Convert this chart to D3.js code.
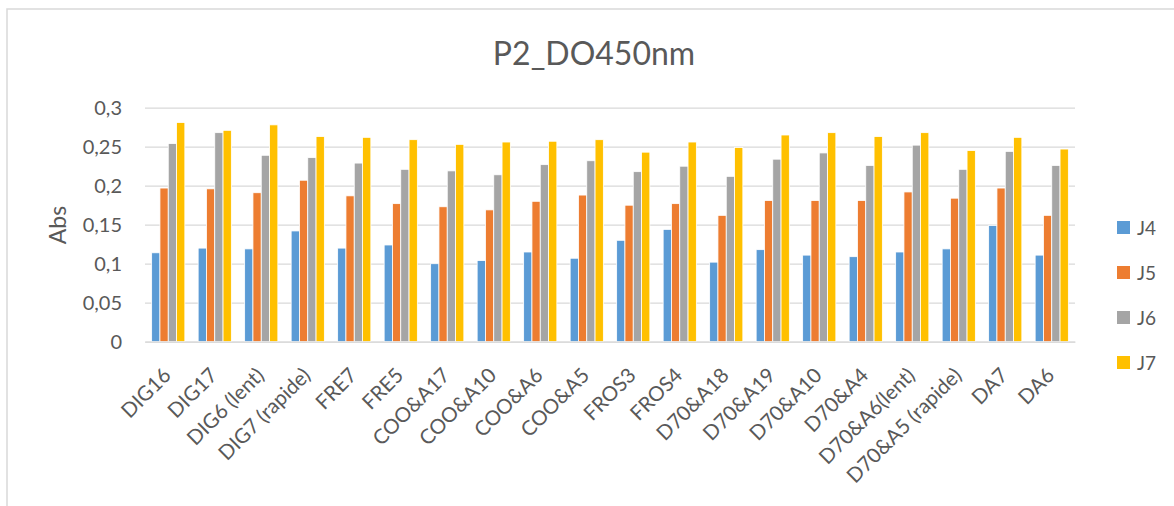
<!DOCTYPE html>
<html>
<head>
<meta charset="utf-8">
<script src="https://cdn.jsdelivr.net/npm/d3@7"></script>
<style>
  html, body { margin: 0; padding: 0; background: #fff; }
  svg { display: block; font-family: Lato, "Open Sans", sans-serif; }
</style>
</head>
<body>
<svg id="chart" width="1174" height="506"></svg>
<script>
const categories = ["DIG16", "DIG17", "DIG6 (lent)", "DIG7 (rapide)", "FRE7", "FRE5",
  "COO&A17", "COO&A10", "COO&A6", "COO&A5", "FROS3", "FROS4", "D70&A18", "D70&A19",
  "D70&A10", "D70&A4", "D70&A6(lent)", "D70&A5 (rapide)", "DA7", "DA6"];
const seriesNames = ["J4", "J5", "J6", "J7"];
const J4 = [0.114, 0.120, 0.119, 0.142, 0.120, 0.124, 0.100, 0.104, 0.115, 0.107,
  0.130, 0.144, 0.102, 0.118, 0.111, 0.109, 0.115, 0.119, 0.149, 0.111];
const J5 = [0.197, 0.196, 0.191, 0.207, 0.187, 0.177, 0.173, 0.169, 0.180, 0.188,
  0.175, 0.177, 0.162, 0.181, 0.181, 0.181, 0.192, 0.184, 0.197, 0.162];
const J6 = [0.254, 0.268, 0.239, 0.236, 0.229, 0.221, 0.219, 0.214, 0.227, 0.232,
  0.218, 0.225, 0.212, 0.234, 0.242, 0.226, 0.252, 0.221, 0.244, 0.226];
const J7 = [0.281, 0.271, 0.278, 0.263, 0.262, 0.259, 0.253, 0.256, 0.257, 0.259,
  0.243, 0.256, 0.249, 0.265, 0.268, 0.263, 0.268, 0.245, 0.262, 0.247];
const yTicks = [0, 0.05, 0.1, 0.15, 0.2, 0.25, 0.3];
const yTickLabels = ["0", "0,05", "0,1", "0,15", "0,2", "0,25", "0,3"];
const colors = ["#5B9BD5", "#ED7D31", "#A5A5A5", "#FFC000"];
const title = "P2_DO450nm";
const yTitle = "Abs";

const seriesValues = [J4, J5, J6, J7];
const rows = categories.map((c, i) => ({cat: c, vals: seriesNames.map((s, k) => ({s, v: seriesValues[k][i]}))}));

const svg = d3.select("#chart");
const textColor = "#595959";
const gridColor = "#D9D9D9";
const font = "Lato, 'Open Sans', sans-serif";

// outer chart border (top and left visible)
svg.append("rect").attr("x", 7).attr("y", 9).attr("width", 1200).attr("height", 600)
  .attr("fill", "none").attr("stroke", gridColor).attr("stroke-width", 1.5);

const plot = {left: 145, right: 1075, top: 107.7, bottom: 341.7};

const x0 = d3.scaleBand().domain(categories).range([plot.left, plot.right])
  .paddingInner(0.286).paddingOuter(0.143);
const x1 = d3.scaleBand().domain(seriesNames).range([0, x0.bandwidth()]);
const y = d3.scaleLinear().domain([0, 0.3]).range([plot.bottom, plot.top]);
const color = d3.scaleOrdinal().domain(seriesNames).range(colors);

// gridlines via axis
const yGrid = d3.axisLeft(y).tickValues(yTicks).tickSize(-(plot.right - plot.left)).tickFormat("");
const gGrid = svg.append("g").attr("transform", `translate(${plot.left},0)`).call(yGrid);
gGrid.select(".domain").remove();
gGrid.selectAll("line").attr("stroke", gridColor).attr("stroke-width", 1.3);

// y axis labels
const yAxis = d3.axisLeft(y).tickValues(yTicks).tickSize(0).tickPadding(0)
  .tickFormat((d, i) => yTickLabels[i]);
const gY = svg.append("g").attr("transform", `translate(${plot.left - 23},0)`).call(yAxis);
gY.select(".domain").remove();
gY.selectAll("text").attr("fill", textColor).attr("font-size", 20).attr("font-family", font);

// bars
const groups = svg.append("g").selectAll("g").data(rows).join("g")
  .attr("transform", d => `translate(${x0(d.cat)},0)`);
groups.selectAll("rect").data(d => d.vals).join("rect")
  .attr("x", d => x1(d.s))
  .attr("y", d => y(d.v))
  .attr("width", x1.bandwidth())
  .attr("height", d => y(0) - y(d.v))
  .attr("fill", d => color(d.s))
  .attr("stroke", "#fff").attr("stroke-width", 0.8);

// x axis
const xAxis = d3.axisBottom(x0).tickSize(0).tickPadding(0);
const gX = svg.append("g").attr("transform", `translate(0,${plot.bottom})`).call(xAxis);
gX.select(".domain").attr("stroke", gridColor).attr("stroke-width", 1.3);
gX.selectAll("text")
  .attr("fill", textColor).attr("font-size", 20.5).attr("font-family", font)
  .attr("text-anchor", "end")
  .attr("dy", null)
  .attr("y", 0)
  .attr("transform", "translate(4,35) rotate(-45)");

// title
svg.append("text").attr("x", 594).attr("y", 65).attr("text-anchor", "middle")
  .attr("fill", textColor).attr("font-size", 32).text(title);

// y title
svg.append("text").attr("transform", `translate(66,225) rotate(-90)`)
  .attr("text-anchor", "middle").attr("fill", textColor).attr("font-size", 23).text(yTitle);

// legend
const legend = svg.append("g").attr("transform", "translate(1117,221)");
const li = legend.selectAll("g").data(seriesNames).join("g")
  .attr("transform", (d, i) => `translate(0,${i * 45})`);
li.append("rect").attr("width", 13).attr("height", 13).attr("fill", d => color(d));
li.append("text").attr("x", 20).attr("y", 13.5).attr("fill", textColor).attr("font-size", 19).text(d => d);
</script>
</body>
</html>
